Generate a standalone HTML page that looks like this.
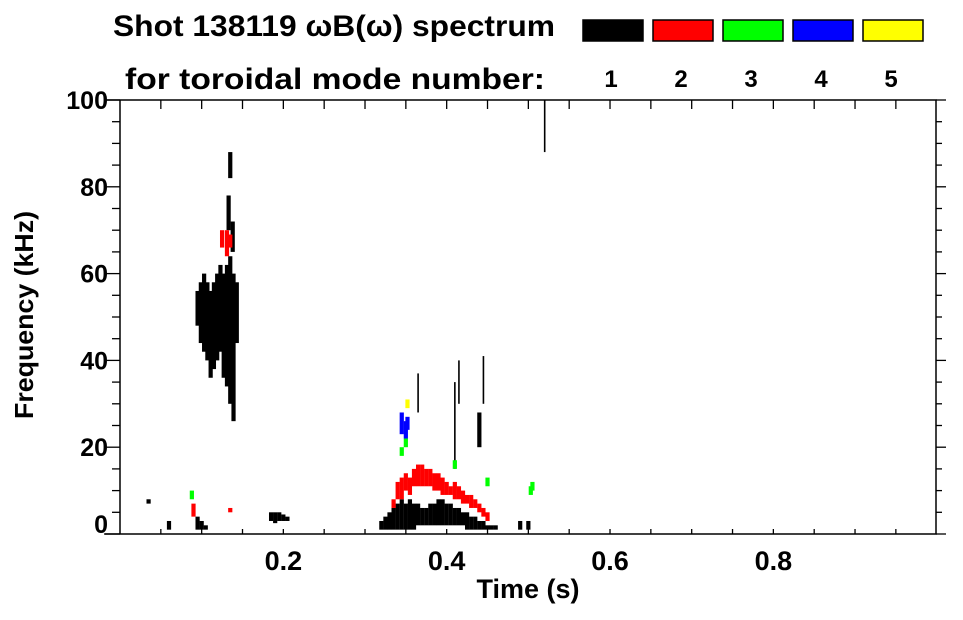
<!DOCTYPE html>
<html><head><meta charset="utf-8"><style>
body{margin:0;background:#fff;width:963px;height:615px;overflow:hidden;font-family:"Liberation Sans",sans-serif}
svg text{font-family:"Liberation Sans","DejaVu Sans",sans-serif;font-weight:bold;fill:#000}
</style></head><body>
<svg id="c" width="963" height="615">
<text x="113" y="36" font-size="30" textLength="442" lengthAdjust="spacingAndGlyphs">Shot 138119 ωB(ω) spectrum</text>
<text x="125" y="89" font-size="30" textLength="420" lengthAdjust="spacingAndGlyphs">for toroidal mode number:</text>
<text x="528" y="598" font-size="27" text-anchor="middle">Time (s)</text>
<text transform="translate(33,315) rotate(-90)" font-size="26" text-anchor="middle" textLength="208" lengthAdjust="spacingAndGlyphs">Frequency (kHz)</text>
<g id="legend"></g><g id="marks"></g><g id="axes"></g>
</svg>
<script>
const modeColors=["#000","#f00","#0f0","#00f","#ff0"];
const modeLabels=["1","2","3","4","5"];
const xTicks=[0.2,0.4,0.6,0.8];
const yTicks=[0,20,40,60,80,100];
// columns: [time, fLow, fHigh]
const mode1=[[0.035,7,8],[0.06,1,3],[0.095,1,4],[0.1,1,3],[0.105,1,2],[0.185,3,5],[0.19,2.5,5],[0.195,3,5],[0.2,3,4.5],[0.205,3,4],
[0.095,48,56],[0.099,44,58],[0.103,42,60],[0.107,40,58],[0.111,36,56],[0.115,38,58],[0.119,40,60],[0.123,42,62],[0.127,36,60],[0.131,34,62],[0.135,30,64],[0.139,26,60],[0.143,44,58],
[0.133,70,78],[0.135,82,88],[0.138,65,72],
[0.32,1,3],[0.325,1,4],[0.33,1,5],[0.335,1,6],[0.34,1,7],[0.345,1,8],[0.35,1,7],[0.355,1,8],[0.36,1,7],[0.365,2,7],[0.37,2,6],[0.375,2,6],[0.38,2,7],[0.385,2,7],[0.39,2,8],[0.395,2,8],[0.40,2,7],[0.405,2,7],[0.41,2,6],[0.415,2,6],[0.42,2,5],[0.425,1,5],[0.43,1,4],[0.435,1,4],[0.44,1,3],[0.445,1,3],[0.45,1,2],[0.455,1,2],[0.46,1,2],
[0.41,15,35],[0.415,30,40],[0.44,20,28],[0.445,30,41],[0.365,28,37],[0.49,1,3],[0.5,1,3],[0.52,88,100]];
const mode2=[[0.09,4,7],[0.125,66,70],[0.131,64,70],[0.135,66,69],[0.135,5,6],
[0.335,6,8],[0.34,8,12],[0.345,8,13],[0.35,10,14],[0.355,9,13],[0.36,11,15],[0.365,11,16],[0.37,11,16],[0.375,11,15],[0.38,11,15],[0.385,10,14],[0.39,10,14],[0.395,9,13],[0.40,9,12],[0.405,9,11],[0.41,8,12],[0.415,8,11],[0.42,7,10],[0.425,7,9],[0.43,6,9],[0.435,6,8],[0.44,5,7],[0.445,4,6],[0.45,3,5]];
const mode3=[[0.088,8,10],[0.345,18,20],[0.35,20,22],[0.41,15,17],[0.45,11,13],[0.503,9,11],[0.505,10,12]];
const mode4=[[0.345,23,28],[0.35,22,26],[0.352,24,27]];
const mode5=[[0.352,29,31]];
const series=[mode1,mode2,mode3,mode4,mode5];
const L=120,R=936,T=100,B=534;
const X=t=>L+t*(816.7);
const Y=f=>B-f*(B-T)/100;
const NS="http://www.w3.org/2000/svg";
function mk(tag,attrs,parent){const e=document.createElementNS(NS,tag);for(const k in attrs)e.setAttribute(k,attrs[k]);parent.appendChild(e);return e;}
const marks=document.getElementById('marks');
series.forEach((s,m)=>{s.forEach(d=>{
 const thin=(d[2]-d[1])>8&&d[0]>0.3;
 const w=thin?1.6:4.2;
 const r=mk('rect',{x:X(d[0])-w/2,y:Y(d[2]),width:w,height:Math.max(1,Y(d[1])-Y(d[2])),fill:modeColors[m]},marks);
 
 
});});
const lg=document.getElementById('legend');
modeColors.forEach((c,i)=>{
 const b=mk('rect',{x:583+i*70,y:20,width:60,height:21,fill:c,stroke:'#000','stroke-width':1.5},lg);
 
 
 const t=mk('text',{x:611+i*70,y:87,'font-size':24,'text-anchor':'middle'},lg);t.textContent=modeLabels[i];
 
 
});
const ax=document.getElementById('axes');
const a=mk('path',{d:`M105 ${T}H${R}V${B}H105M${L} ${T}V${B}`,fill:'none',stroke:'#000','stroke-width':1.5},ax);

for(let t=0.05;t<1;t+=0.05){const x=X(t);
 mk('line',{x1:x,x2:x,y1:B,y2:B-5,stroke:'#000','stroke-width':1.3},ax);
 mk('line',{x1:x,x2:x,y1:T,y2:T+9,stroke:'#000','stroke-width':1.3},ax);}
for(let f=0;f<=100;f+=5){const y=Y(f);const len=f%20===0?16:8;
 mk('line',{x1:L,x2:L-len,y1:y,y2:y,stroke:'#000','stroke-width':1.3},ax);
 mk('line',{x1:R,x2:R+len/2+2,y1:y,y2:y,stroke:'#000','stroke-width':1.3},ax);}
xTicks.forEach(t=>{const e=mk('text',{x:X(t),y:570,'font-size':27,'text-anchor':'middle'},ax);e.textContent=t.toFixed(1);
 });
yTicks.forEach(f=>{const e=mk('text',{x:108,y:Math.min(Y(f)+9,533),'font-size':25,'text-anchor':'end'},ax);e.textContent=f;
 });
</script>
</body></html>
